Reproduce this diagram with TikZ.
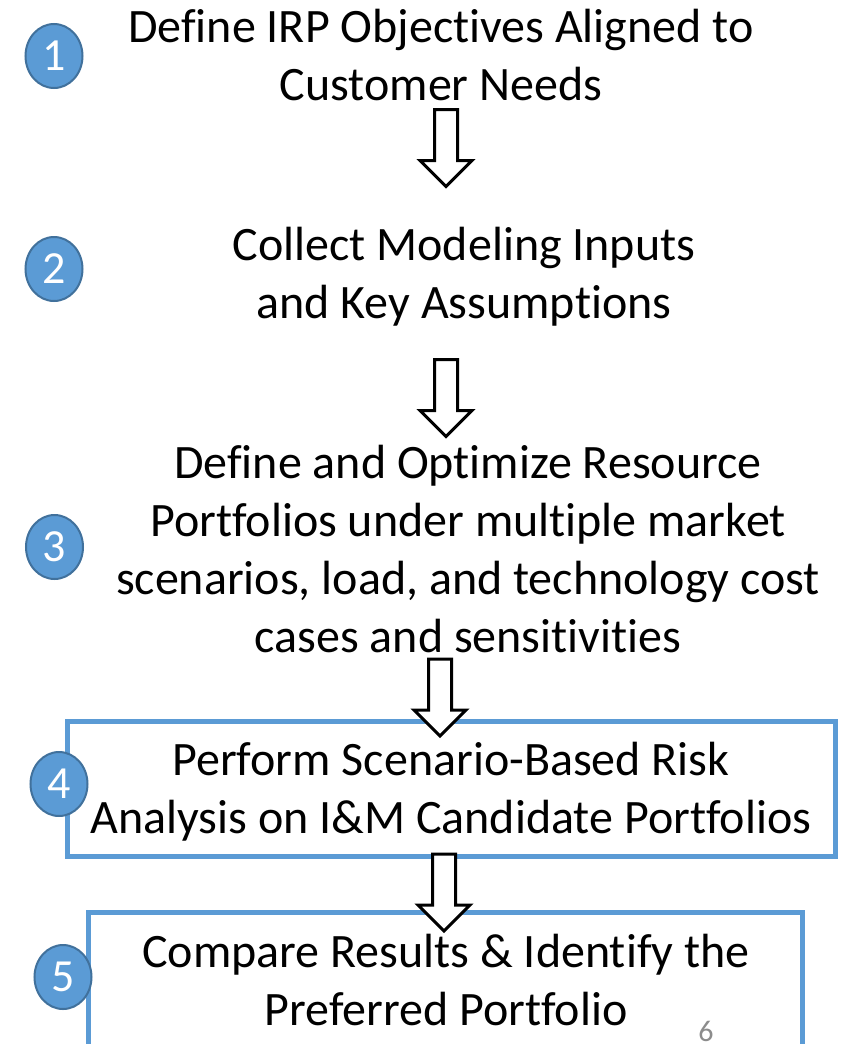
\documentclass[tikz,border=0pt]{standalone}
\usepackage{fontspec}
\usetikzlibrary{shapes.geometric}
\setmainfont{Carlito}[Ligatures={NoCommon}]
\definecolor{officeblue}{HTML}{5B9BD5}
\definecolor{circleedge}{HTML}{41719C}
\definecolor{pagegray}{HTML}{8C8C8C}
\begin{document}
\begin{tikzpicture}[x=1pt,y=-1pt,
  steptext/.style={align=center,inner sep=0pt,anchor=base,font=\fontsize{48}{58}\selectfont},
  numcircle/.style={ellipse,fill=officeblue,draw=circleedge,line width=2pt,minimum width=57pt,minimum height=64pt,inner sep=0pt,text=white,font=\fontsize{46}{46}\selectfont},
  stepbox/.style={draw=officeblue,line width=5pt},
  arrowline/.style={draw=black,fill=white,line width=3pt,line join=miter},
  blockarrow/.pic={\path[arrowline] (-11.5,0) -- (11.5,0) -- (11.5,51) -- (26,51) -- (0,77) -- (-26,51) -- (-11.5,51) -- cycle;}
]
\useasboundingbox (0,0) rectangle (851,1044);
\clip (0,0) rectangle (851,1044);
% boxes
\draw[stepbox] (67,721) rectangle (835,856);
\draw[stepbox] (88,912) rectangle (802,1070);
% texts (base anchor = baseline of last line)
\node[steptext] (s1) at (441,100) {Define IRP Objectives Aligned to\\Customer Needs};
\node[steptext] (s2) at (464,318) {Collect Modeling Inputs\\and Key Assumptions};
\node[steptext] (s3) at (468,652) {Define and Optimize Resource\\Portfolios under multiple market\\scenarios, load, and technology cost\\cases and sensitivities};
\node[steptext] (s4) at (451,833) {Perform Scenario-Based Risk\\Analysis on I\&M Candidate Portfolios};
\node[steptext] (s5) at (446,1025) {Compare Results \& Identify the\\Preferred Portfolio};
% arrows
\pic at (446,109.5) {blockarrow};
\pic at (446,359.5) {blockarrow};
\pic at (440,659) {blockarrow};
\pic at (444,854) {blockarrow};
% circles
\node[numcircle] (c1) at (54,56) {1};
\node[numcircle] (c2) at (54,269) {2};
\node[numcircle] (c3) at (54.5,547) {3};
\node[numcircle] (c4) at (59,784) {4};
\node[numcircle] (c5) at (63,977) {5};
% page number
\node[text=pagegray,font=\fontsize{30}{30}\selectfont,inner sep=0pt,anchor=base] (pg) at (706,1041) {6};
\end{tikzpicture}
\end{document}
